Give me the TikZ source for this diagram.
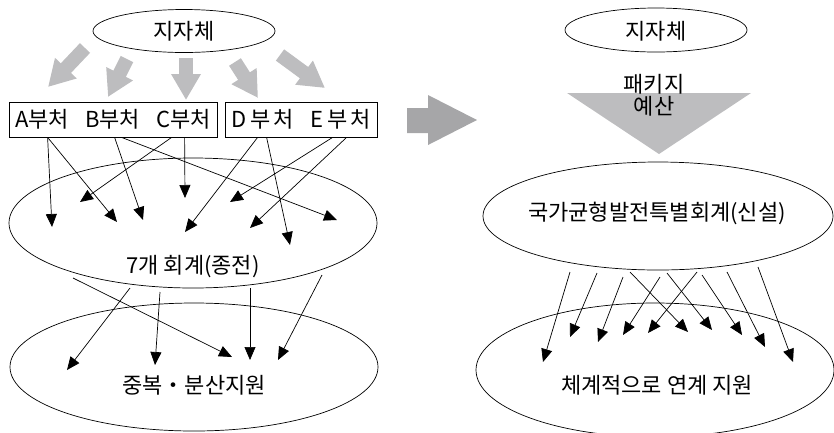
\documentclass[tikz,border=0pt]{standalone}
\usepackage{fontspec}
\setmainfont{Noto Sans CJK KR}
\usetikzlibrary{arrows.meta,shapes.geometric,calc}
\definecolor{ga}{HTML}{BDBDBF}
\definecolor{gb}{HTML}{A6A6A8}
\begin{document}
\begin{tikzpicture}[x=1pt,y=-1pt,
  arr/.style={line width=0.7pt,-{Triangle[length=13pt,width=11pt]}},
  garr/.style={draw=ga,line width=14pt,-{Triangle[length=26pt,width=28pt]}},
  ell/.style={ellipse,draw,line width=0.7pt,inner sep=0pt},
  txt/.style={font=\fontsize{22}{24}\selectfont,inner sep=0pt},
  box/.style={draw,line width=0.8pt,inner sep=0pt,font=\fontsize{22}{24}\selectfont}]
\useasboundingbox (0,0) rectangle (834,432);
% ---------- left ----------
\node[ell,minimum width=182pt,minimum height=43pt] (jL) at (184,31) {};
\node[txt] at (184,31) {지자체};
\node[box,minimum width=208pt,minimum height=35pt] (abc) at (113,119.5) {A부처\hspace{16pt}B부처\hspace{16pt}C부처};
\node[box,minimum width=152pt,minimum height=35pt] (de) at (301,119.5) {D\hspace{4pt}부\hspace{3pt}처\hspace{16pt}E\hspace{4pt}부\hspace{3pt}처};
\node[ell,minimum width=368pt,minimum height=130pt] (old) at (193,223) {};
\node[txt] at (193,267) {7개 회계(종전)};
\node[ell,minimum width=368pt,minimum height=128pt] (dup) at (194,367) {};
\node[txt] at (194,385) {중복・분산지원};
% gray arrows
\coordinate (g1s) at (85,48);  \coordinate (g1e) at (48,87);
\coordinate (g2s) at (127,59); \coordinate (g2e) at (108,97);
\coordinate (g3s) at (186,58); \coordinate (g3e) at (186,100);
\coordinate (g4s) at (235,62); \coordinate (g4e) at (258,98);
\coordinate (g5s) at (280,55); \coordinate (g5e) at (325,88);
\foreach \i in {1,...,5} {\draw[garr] (g\i s) -- (g\i e);}
% box arrows
\coordinate (t1) at (52,227);  \coordinate (t2) at (117,222);
\coordinate (t3) at (143,220); \coordinate (t4) at (337,220);
\coordinate (t5) at (80,202);  \coordinate (t6) at (185,198);
\coordinate (t7) at (185,232); \coordinate (t8) at (290,245);
\coordinate (t9) at (230,202); \coordinate (t10) at (250,228);
\draw[arr] ([xshift=39pt]abc.south west) -- (t1);
\draw[arr] ([xshift=39pt]abc.south west) -- (t2);
\draw[arr] ([xshift=106pt]abc.south west) -- (t3);
\draw[arr] ([xshift=113pt]abc.south west) -- (t4);
\draw[arr] ([xshift=163pt]abc.south west) -- (t5);
\draw[arr] ([xshift=176pt]abc.south west) -- (t6);
\draw[arr] ([xshift=33pt]de.south west) -- (t7);
\draw[arr] ([xshift=42pt]de.south west) -- (t8);
\draw[arr] ([xshift=108pt]de.south west) -- (t9);
\draw[arr] ([xshift=122pt]de.south west) -- (t10);
% ellipse to ellipse
\coordinate (s1) at (130,288); \coordinate (u1) at (67,370);
\coordinate (s2) at (160,292); \coordinate (u2) at (155,365);
\coordinate (s3) at (73,278);  \coordinate (u3) at (232,357);
\coordinate (s4) at (250,288); \coordinate (u4) at (250,360);
\coordinate (s5) at (322,275); \coordinate (u5) at (278,360);
\foreach \i in {1,...,5} {\draw[arr] (s\i) -- (u\i);}
% big arrow
\fill[gb] (407,108) -- (428,108) -- (428,95) -- (477,120) -- (428,145) -- (428,133) -- (407,133) -- cycle;
% ---------- right ----------
\node[ell,minimum width=182pt,minimum height=44pt] (jR) at (656,30) {};
\node[txt] at (656,31) {지자체};
\fill[ga] (567,93) -- (751,93) -- (659,154) -- cycle;
\node[txt] (pk) at (654,84) {패키지};
\node[txt] (ys) at (654,106) {예산};
\node[ell,minimum width=350pt,minimum height=108pt] (new) at (658,216) {};
\node[txt] at (657,213) {국가균형발전특별회계(신설)};
\node[ell,minimum width=358pt,minimum height=134pt] (sys) at (655,370) {};
\node[txt] at (657,385) {체계적으로 연계 지원};
\coordinate (a1) at (570,272);  \coordinate (b1) at (543,362);
\coordinate (a2) at (597,273);  \coordinate (b2) at (570,337);
\coordinate (a3) at (623,277);  \coordinate (b3) at (598,342);
\coordinate (a4) at (630,272);  \coordinate (b4) at (688,332);
\coordinate (a5) at (660,277);  \coordinate (b5) at (623,335);
\coordinate (a6) at (667,273);  \coordinate (b6) at (712,330);
\coordinate (a7) at (697,272);  \coordinate (b7) at (648,333);
\coordinate (a8) at (702,275);  \coordinate (b8) at (742,335);
\coordinate (a9) at (727,272);  \coordinate (b9) at (765,347);
\coordinate (a10) at (758,267); \coordinate (b10) at (793,362);
\foreach \i in {1,...,10} {\draw[arr] (a\i) -- (b\i);}
\end{tikzpicture}
\end{document}
